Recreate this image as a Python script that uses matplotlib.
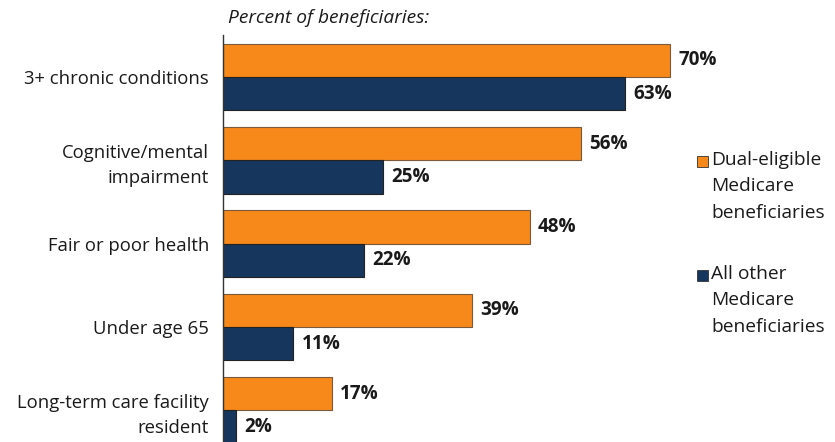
import numpy as np
import matplotlib.pyplot as plt

plt.rcParams['font.family'] = ['Open Sans', 'DejaVu Sans']

categories = ['3+ chronic conditions', 'Cognitive/mental\nimpairment', 'Fair or poor health',
              'Under age 65', 'Long-term care facility\nresident']
dual = [70, 56, 48, 39, 17]
other = [63, 25, 22, 11, 2]
series_names = ['Dual-eligible\nMedicare\nbeneficiaries', 'All other\nMedicare\nbeneficiaries']

orange = '#F7891A'
navy = '#17365D'

W, H = 835, 442
fig = plt.figure(figsize=(W / 100, H / 100), dpi=100)
ax = fig.add_axes([223 / W, 0, 467 / W, (H - 35) / H])

y = np.arange(len(categories))
h = 0.4
b1 = ax.barh(y - h / 2, dual, height=h, color=orange, edgecolor='#7a5a3a', linewidth=0.8, label=series_names[0])
b2 = ax.barh(y + h / 2, other, height=h, color=navy, edgecolor='#222222', linewidth=0.8, label=series_names[1])

for bars in (b1, b2):
    for r in bars:
        ax.text(r.get_width() + 1.3, r.get_y() + r.get_height() / 2, f'{r.get_width():.0f}%',
                va='center', ha='left', fontsize=13.6, fontweight='bold', color='#1a1a1a')

ax.set_xlim(0, 73.1)
ax.set_ylim(4.38, -0.504)
ax.set_yticks(y)
ax.set_yticklabels(categories, fontsize=13.3, color='#1a1a1a', linespacing=1.5)
ax.tick_params(axis='y', length=0, pad=10)
ax.set_xticks([])
for s in ['top', 'right', 'bottom']:
    ax.spines[s].set_visible(False)
ax.spines['left'].set_color('#333333')
ax.spines['left'].set_linewidth(1.0)

fig.text(228 / W, 1 - 18 / H, 'Percent of beneficiaries:', style='italic', fontsize=13.8,
         va='center', ha='left', color='#1a1a1a')

# legend drawn as markers + text on the right
leg_y = [161, 275]
leg_cols = [orange, navy]
for ly, c, name in zip(leg_y, leg_cols, series_names):
    fig.patches.append(plt.Rectangle((697 / W, 1 - (ly + 5.5) / H), 11 / W, 11 / H,
                                     transform=fig.transFigure, facecolor=c,
                                     edgecolor='#333333', linewidth=0.6))
    fig.text(711 / W, 1 - (ly - 10) / H, name, fontsize=13.8, va='top', ha='left',
             color='#1a1a1a', linespacing=1.6)

fig.savefig('out.png', dpi=100)
